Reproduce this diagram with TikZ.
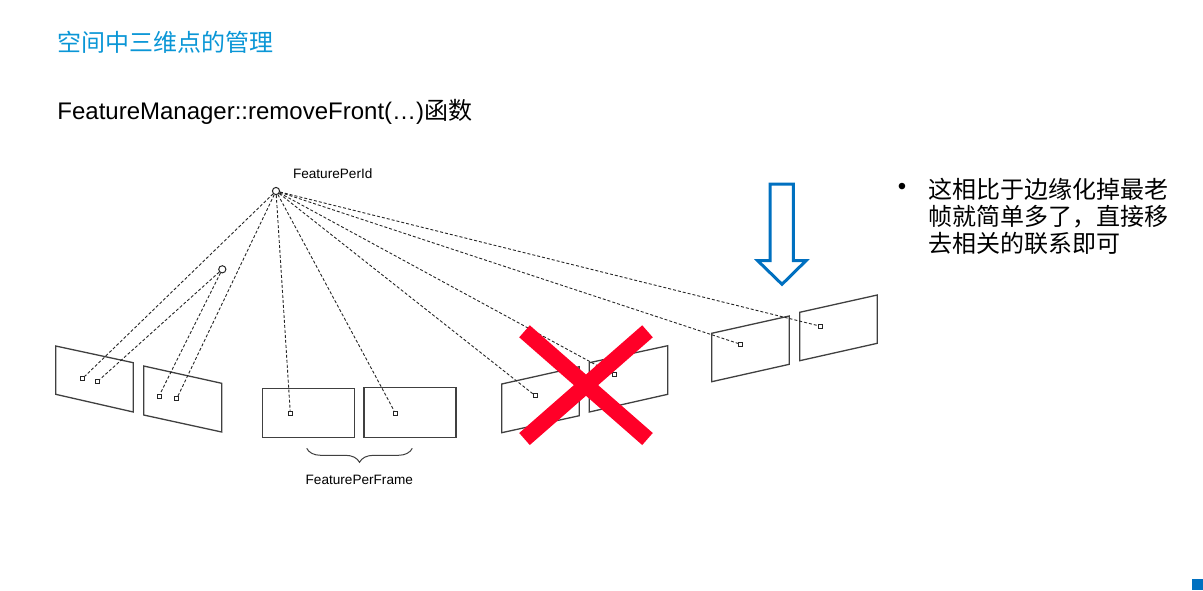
\documentclass[tikz,border=0pt]{standalone}
\usepackage{fontspec}
\setmainfont{Liberation Sans}
\newfontfamily\cjk{Noto Sans CJK SC}
\usetikzlibrary{decorations.pathreplacing}
\definecolor{titleblue}{RGB}{10,150,214}
\definecolor{arrowblue}{RGB}{0,112,192}
\definecolor{xred}{RGB}{255,0,40}
\begin{document}
\begin{tikzpicture}[x=0.5pt,y=-0.5pt,
  frame/.style={draw=black!75, line width=0.65pt},
  pt/.style={draw=black!85, line width=0.4pt, rectangle, minimum size=2pt, inner sep=0pt},
  link/.style={draw=black!85, line width=0.45pt, dash pattern=on 1.5pt off 1pt},
  fpoint/.style={circle, draw=black!85, line width=0.5pt, minimum size=3.6pt, inner sep=0pt},
  lbl/.style={font=\fontsize{6.8}{8}\selectfont, inner sep=0pt},
  xstroke/.style={draw=xred, line width=8pt}]
\useasboundingbox (0,0) rectangle (1203,590);
% titles
\node[anchor=west, inner sep=0pt, text=titleblue, font=\cjk\fontsize{12}{14}\selectfont] (title) at (57,42) {空间中三维点的管理};
\node[anchor=west, inner sep=0pt, font=\fontsize{12}{14}\selectfont] (func) at (57,112) {FeatureManager::removeFront(…){\cjk 函数}};
% bullet text
\node[inner sep=0pt, font=\fontsize{12}{14}\selectfont] (bullet) at (902,189) {•};
\node[anchor=west, align=left, inner sep=0pt, font=\cjk\fontsize{12}{13.5}\selectfont] (btext) at (928,216.5) {这相比于边缘化掉最老\\帧就简单多了，直接移\\去相关的联系即可};
% frames
\draw[frame] (55.7,346) -- (133.3,362.7) -- (133.3,412) -- (55.7,394.3) -- cycle;
\draw[frame] (143.7,366) -- (221.7,383.3) -- (221.7,432) -- (143.7,415) -- cycle;
\draw[frame] (262.7,388.7) rectangle (354.3,437.3);
\draw[frame] (364,387.7) rectangle (456,437.3);
\draw[frame] (501.7,384) -- (579.3,366.7) -- (579.3,415.7) -- (501.7,432.7) -- cycle;
\draw[frame] (589.3,362.7) -- (667.7,345.7) -- (667.7,394.3) -- (589.3,412) -- cycle;
\draw[frame] (711.7,333.3) -- (789.3,316) -- (789.3,364.3) -- (711.7,381.7) -- cycle;
\draw[frame] (799.7,312.3) -- (877.3,295) -- (877.3,343.3) -- (799.7,360.7) -- cycle;
% feature observations
\node[pt] (p1a) at (82.3,378.7) {};
\node[pt] (p1b) at (97.7,381.3) {};
\node[pt] (p2a) at (159,396) {};
\node[pt] (p2b) at (176.7,398.7) {};
\node[pt] (p3) at (290.3,413) {};
\node[pt] (p4) at (395.3,413) {};
\node[pt] (p5) at (535.3,395.7) {};
\node[pt] (p6) at (614,374.7) {};
\node[pt] (p7) at (740.7,344.3) {};
\node[pt] (p8) at (820.7,326.3) {};
% 3D points
\node[fpoint] (fa) at (276,191) {};
\node[fpoint] (fb) at (222.3,269.3) {};
\node[lbl] (falbl) at (332.7,173.3) {FeaturePerId};
% links
\foreach \p in {p1a,p2b,p3,p4,p5,p6,p7,p8} \draw[link] (fa) -- (\p);
\foreach \p in {p1b,p2a} \draw[link] (fb) -- (\p);
% brace
\coordinate (bl) at (306.7,448.3);
\coordinate (br) at (412.3,448.3);
\draw[draw=black!75, line width=0.5pt, decorate, decoration={brace, mirror, amplitude=7pt}] (bl) -- (br);
\node[lbl] (fflbl) at (359.3,480) {FeaturePerFrame};
% red cross
\coordinate (x1) at (524.5,331.3);
\coordinate (x2) at (647.5,439);
\coordinate (x3) at (524.5,439);
\coordinate (x4) at (647.5,331.3);
\draw[xstroke] (x1) -- (x2);
\draw[xstroke] (x3) -- (x4);
% blue arrow
\draw[draw=arrowblue, line width=1.5pt, line join=miter] (770,184) -- (793.3,184) -- (793.3,260.7) -- (806,260.7) -- (782,284.3) -- (757.7,260.7) -- (770,260.7) -- cycle;
% corner square
\fill[arrowblue] (1192,579) rectangle (1203,590);
\end{tikzpicture}
\end{document}
